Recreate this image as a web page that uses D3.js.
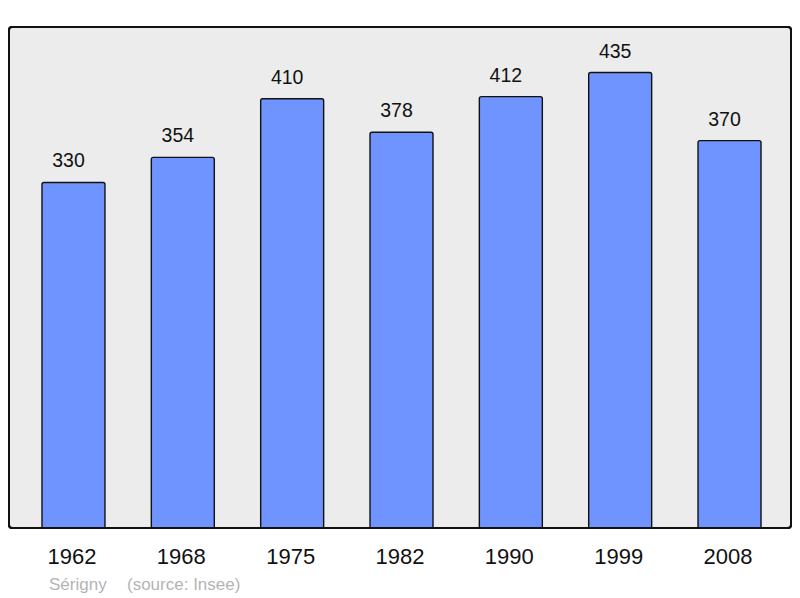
<!DOCTYPE html>
<html>
<head>
<meta charset="utf-8">
<script src="https://cdn.jsdelivr.net/npm/d3@7"></script>
<style>
  body { margin: 0; background: #fff; }
  text { font-family: "Liberation Sans", Arial, sans-serif; }
</style>
</head>
<body>
<svg id="chart"></svg>
<script>
// data: population by census year
const years = ['1962', '1968', '1975', '1982', '1990', '1999', '2008']
const population = [330, 354, 410, 378, 412, 435, 370]
const townName = 'Sérigny'
const sourceNote = '(source: Insee)'

const width = 800, height = 598
const panel = {x0: 9, y0: 27, x1: 791, y1: 528}

const svg = d3.select('#chart')
    .attr('width', width)
    .attr('height', height)

// panel background
svg.append('rect')
    .attr('x', panel.x0)
    .attr('y', panel.y0)
    .attr('width', panel.x1 - panel.x0)
    .attr('height', panel.y1 - panel.y0)
    .attr('rx', 3)
    .attr('fill', '#ececec')
    .attr('stroke', '#111')
    .attr('stroke-width', 2)

const x = d3.scaleBand()
    .domain(years)
    .range([panel.x0 + 1.5, panel.x1 + 1.5])
    .paddingInner(0.424)
    .paddingOuter(0.288)

const y = d3.scaleLinear()
    .domain([0, d3.max(population) * 1.1])
    .range([panel.y1, panel.y0])

const data = years.map((yr, i) => ({year: yr, value: population[i]}))

// bars
svg.selectAll('rect.bar')
    .data(data)
    .join('rect')
    .attr('class', 'bar')
    .attr('x', d => x(d.year))
    .attr('y', d => y(d.value))
    .attr('width', x.bandwidth())
    .attr('height', d => y(0) - y(d.value) + 3)
    .attr('rx', 2)
    .attr('fill', '#7094ff')
    .attr('stroke', '#111')
    .attr('stroke-width', 1.4)

// redraw panel border on top so bars tuck under bottom edge
svg.append('rect')
    .attr('x', panel.x0)
    .attr('y', panel.y0)
    .attr('width', panel.x1 - panel.x0)
    .attr('height', panel.y1 - panel.y0)
    .attr('rx', 3)
    .attr('fill', 'none')
    .attr('stroke', '#111')
    .attr('stroke-width', 2)
svg.append('rect')
    .attr('x', panel.x0 - 1)
    .attr('y', panel.y1 + 1)
    .attr('width', panel.x1 - panel.x0 + 2)
    .attr('height', 6)
    .attr('fill', '#fff')

// value labels
svg.selectAll('text.value')
    .data(data)
    .join('text')
    .attr('class', 'value')
    .attr('x', d => x(d.year) + x.bandwidth() / 2 - 5)
    .attr('y', d => y(d.value) - 15)
    .attr('text-anchor', 'middle')
    .attr('font-size', 19.5)
    .attr('fill', '#111')
    .text(d => d.value)

// year labels
svg.selectAll('text.year')
    .data(data)
    .join('text')
    .attr('class', 'year')
    .attr('x', d => x(d.year) + x.bandwidth() / 2 - 1.5)
    .attr('y', 564)
    .attr('text-anchor', 'middle')
    .attr('font-size', 22)
    .attr('fill', '#111')
    .text(d => d.year)

// footer
svg.append('text')
    .attr('x', 49)
    .attr('y', 590)
    .attr('font-size', 17)
    .attr('fill', '#b4b4b4')
    .text(townName)
svg.append('text')
    .attr('x', 127)
    .attr('y', 590)
    .attr('font-size', 17)
    .attr('fill', '#b4b4b4')
    .text(sourceNote)
</script>
</body>
</html>
